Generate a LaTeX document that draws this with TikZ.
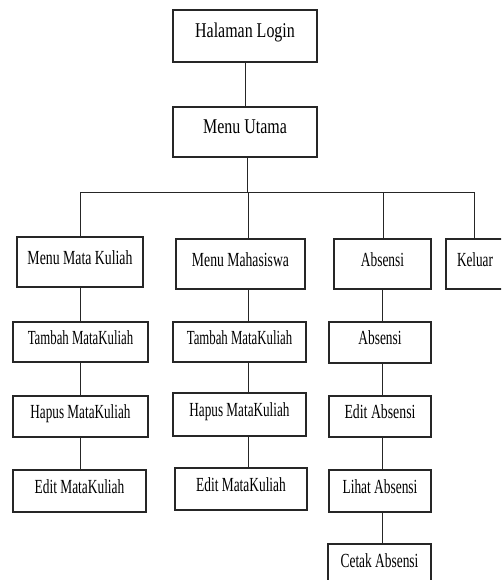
\documentclass[tikz,border=0pt]{standalone}
\usepackage{fontspec}
\usepackage{graphicx}
\setmainfont{Liberation Serif}
\newcommand\tx[2][0.67]{\scalebox{#1}[1]{#2}}
\tikzset{
  box/.style={draw=black!85, line width=1.2pt, fill=white, inner sep=0pt,
    text height=14pt, text depth=10pt,
    font=\fontsize{20}{20}\selectfont},
  conn/.style={draw=black!85, line width=1pt},
}
\begin{document}
\begin{tikzpicture}[x=1pt,y=-1pt]
\useasboundingbox[fill=white] (0,0) rectangle (501,580);
\begin{scope}
\clip (0,0) rectangle (501,580);
% top
\node[box, minimum width=144, minimum height=52] (login) at (245,36) {\tx[0.76]{\fontsize{21}{21}\selectfont Halaman Login}};
\node[box, minimum width=144, minimum height=50] (utama) at (245,132) {\tx[0.76]{\fontsize{21}{21}\selectfont Menu Utama}};
% second level
\node[box, minimum width=126, minimum height=50, text height=16pt, text depth=12pt] (mmk) at (80,262) {\tx[0.69]{Menu Mata Kuliah}};
\node[box, minimum width=129, minimum height=50] (mhs) at (240.5,264) {\tx[0.685]{Menu Mahasiswa}};
\node[box, minimum width=97, minimum height=50] (abs) at (382.5,264) {\tx{Absensi}};
\node[box, minimum width=64, minimum height=50, text width=50, align=left] (kel) at (478,264) {\hspace*{4pt}\tx[0.66]{Keluar}};
% left column
\node[box, minimum width=135, minimum height=40] (t1) at (80.5,342) {\tx[0.64]{Tambah MataKuliah}};
\node[box, minimum width=135, minimum height=41] (h1) at (80.5,416.5) {\tx[0.66]{Hapus MataKuliah}};
\node[box, minimum width=133, minimum height=42] (e1) at (79.5,491) {\tx{Edit MataKuliah}};
% middle column
\node[box, minimum width=133, minimum height=40] (t2) at (239.5,342) {\tx[0.64]{Tambah MataKuliah}};
\node[box, minimum width=133, minimum height=43] (h2) at (239.5,414.5) {\tx[0.66]{Hapus MataKuliah}};
\node[box, minimum width=132, minimum height=42] (e2) at (241,489) {\tx{Edit MataKuliah}};
% absensi column
\node[box, minimum width=102, minimum height=41] (a2) at (380,342.5) {\tx{Absensi}};
\node[box, minimum width=102, minimum height=41] (ea) at (380,416.5) {\tx[0.69]{Edit Absensi}};
\node[box, minimum width=102, minimum height=42] (la) at (380,491) {\tx{Lihat Absensi}};
\node[box, minimum width=103, minimum height=42] (ca) at (379.5,565) {\tx{Cetak Absensi}};
% bus coordinates
\coordinate (bus) at (247,192);
\coordinate (cL) at (80,192);
\coordinate (cM) at (248,192);
\coordinate (cA) at (383,192);
\coordinate (cK) at (474,192);
\coordinate (xA) at (382,192);
% connectors
\draw[conn] (login.south) -- (utama.north);
\draw[conn] (utama.south -| bus) -- (bus);
\draw[conn] (cL) -- (cK);
\draw[conn] (cL) -- (mmk.north -| cL);
\draw[conn] (cM) -- (mhs.north -| cM);
\draw[conn] (cA) -- (abs.north -| cA);
\draw[conn] (cK) -- (kel.north -| cK);
\draw[conn] (mmk.south -| cL) -- (t1.north -| cL);
\draw[conn] (t1.south -| cL) -- (h1.north -| cL);
\draw[conn] (h1.south -| cL) -- (e1.north -| cL);
\draw[conn] (mhs.south -| cM) -- (t2.north -| cM);
\draw[conn] (t2.south -| cM) -- (h2.north -| cM);
\draw[conn] (h2.south -| cM) -- (e2.north -| cM);
\draw[conn] (abs.south -| xA) -- (a2.north -| xA);
\draw[conn] (a2.south -| xA) -- (ea.north -| xA);
\draw[conn] (ea.south -| xA) -- (la.north -| xA);
\draw[conn] (la.south -| xA) -- (ca.north -| xA);
\end{scope}
\end{tikzpicture}
\end{document}
